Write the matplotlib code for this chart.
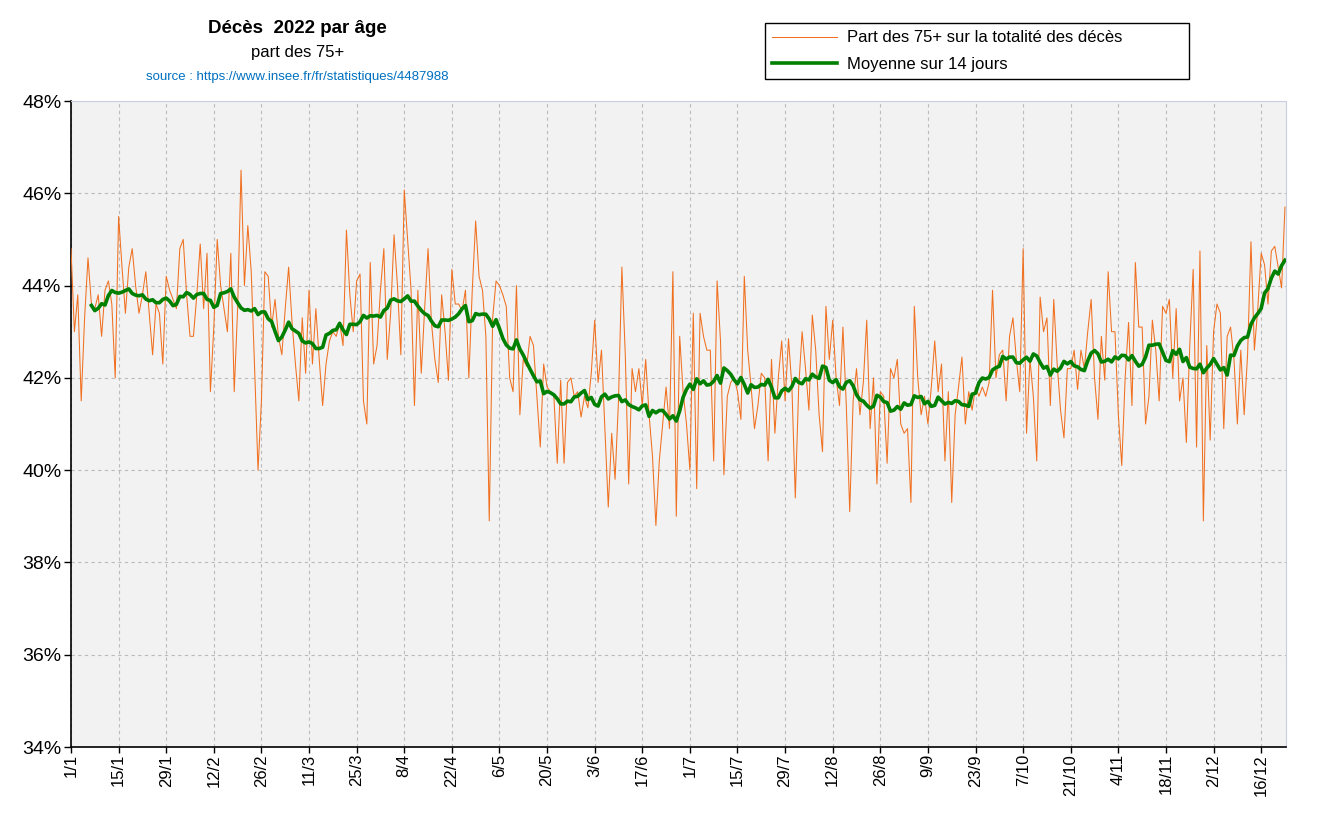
import numpy as np
import pandas as pd
import matplotlib
matplotlib.use("Agg")
import matplotlib.pyplot as plt

plt.rcParams['font.family'] = ['Liberation Sans', 'DejaVu Sans']

# part des 75+ dans les décès journaliers 2022 (%), du 1/1 au 24/12
part_75 = [
    44.8, 43.0, 43.8, 41.5, 43.3, 44.6, 43.6, 43.5, 43.8, 42.9,
    43.9, 44.1, 43.6, 42.0, 45.5, 44.4, 43.4, 44.4, 44.8, 44.0,
    43.4, 43.8, 44.3, 43.4, 42.5, 43.6, 43.4, 42.3, 44.2, 43.9,
    43.7, 43.5, 44.8, 45.0, 43.8, 42.9, 42.9, 43.8, 44.9, 43.5,
    44.7, 41.7, 43.1, 45.0, 44.0, 43.5, 43.0, 44.7, 41.7, 43.5,
    46.5, 44.0, 45.3, 44.3, 42.2, 40.0, 41.5, 44.3, 44.2, 43.1,
    43.7, 42.9, 42.5, 43.5, 44.4, 43.2, 42.3, 41.5, 43.3, 42.1,
    43.9, 42.3, 43.5, 42.4, 41.4, 42.3, 42.8, 43.0, 42.9, 43.2,
    42.7, 45.2, 43.8, 43.0, 44.1, 44.25, 41.5, 41.0, 44.5, 42.3,
    42.7, 43.9, 44.8, 42.4, 43.4, 45.1, 44.0, 42.5, 46.07, 45.0,
    43.9, 41.4, 43.9, 42.1, 43.5, 44.8, 43.2, 42.4, 41.9, 43.8,
    43.0, 41.95, 44.35, 43.6, 43.6, 43.45, 43.9, 42.0, 43.9, 45.4,
    44.2, 43.9, 42.9, 38.9, 43.3, 44.1, 44.0, 43.8, 43.55, 42.0,
    41.7, 44.0, 41.2, 42.4, 42.25, 42.9, 42.7, 41.6, 40.5, 42.3,
    41.8, 41.7, 41.6, 40.15, 41.95, 40.15, 41.9, 42.0, 41.6, 41.7,
    41.15, 41.6, 41.35, 42.1, 43.25, 41.9, 42.6, 40.9, 39.2, 40.8,
    39.8, 41.5, 44.4, 42.5, 39.7, 42.2, 41.7, 42.2, 41.4, 42.4,
    41.2, 40.3, 38.8, 40.2, 41.0, 41.8, 40.9, 44.3, 39.0, 42.9,
    41.7, 41.0, 40.0, 43.4, 39.6, 43.4, 42.9, 42.6, 42.6, 40.2,
    44.1, 42.8, 39.9, 41.6, 41.9, 42.0, 41.7, 41.1, 44.2, 42.6,
    41.8, 40.9, 41.4, 42.1, 42.0, 40.2, 42.4, 40.8, 42.0, 42.8,
    41.5, 42.85, 41.8, 39.4, 41.8, 43.0, 42.2, 41.3, 43.36, 42.6,
    41.2, 40.4, 43.55, 42.4, 43.25, 42.0, 41.4, 43.1, 41.4, 39.1,
    41.5, 42.2, 41.2, 41.9, 43.25, 40.9, 42.0, 39.7, 41.7, 41.6,
    40.15, 42.2, 42.0, 42.4, 41.0, 40.8, 40.9, 39.3, 43.55, 42.0,
    41.2, 41.6, 41.0, 41.8, 42.8, 41.7, 42.3, 40.2, 41.7, 39.3,
    41.2, 41.8, 42.45, 41.0, 41.7, 41.3, 41.8, 41.6, 41.8, 41.6,
    41.9, 43.9, 42.0, 42.5, 42.6, 41.5, 42.9, 43.3, 42.4, 41.7,
    44.8, 40.8, 42.4, 41.6, 40.2, 43.75, 43.0, 43.3, 41.4, 43.7,
    42.3, 41.3, 40.7, 42.2, 42.2, 42.6, 41.75, 42.6, 42.2, 43.0,
    43.7, 42.0, 41.1, 42.9, 41.95, 44.3, 43.0, 43.0, 41.2, 40.1,
    42.0, 43.2, 41.4, 44.5, 43.1, 43.1, 41.0, 41.6, 43.25, 42.6,
    41.5, 43.55, 43.4, 43.7, 42.0, 43.5, 41.5, 42.0, 40.6, 42.7,
    44.35, 40.5, 44.75, 38.9, 42.7, 40.65, 43.0, 43.6, 43.4, 40.9,
    42.9, 43.1, 42.4, 41.0, 42.6, 41.2, 42.5, 44.95, 42.6, 43.5,
    44.7, 44.45, 43.6, 44.75, 44.85, 44.4, 43.95, 45.7,
]

date_labels = ["1/1", "15/1", "29/1", "12/2", "26/2", "11/3", "25/3", "8/4",
               "22/4", "6/5", "20/5", "3/6", "17/6", "1/7", "15/7", "29/7",
               "12/8", "26/8", "9/9", "23/9", "7/10", "21/10", "4/11",
               "18/11", "2/12", "16/12"]
y_ticks = [34, 36, 38, 40, 42, 44, 46, 48]

days = np.arange(len(part_75))
s = pd.Series(part_75)
# moyenne mobile centrée sur 14 jours
moy14 = s.rolling(14, center=True, min_periods=8).mean()
moy14[:6] = np.nan

fig = plt.figure(figsize=(13.27, 8.27), dpi=100)
ax = fig.add_axes([71/1327, 1-747/827, (1286-71)/1327, (747-101)/827])
ax.set_facecolor('#F2F2F2')

ax.plot(days, part_75, color='#F07020', lw=0.75,
        label="Part des 75+ sur la totalité des décès", zorder=3)
ax.plot(days, moy14, color='#008000', lw=2.6,
        label="Moyenne sur 14 jours", zorder=4)

ax.set_xlim(0, 357.3)
ax.set_ylim(34, 48)
ax.set_xticks(range(0, 14*len(date_labels), 14))
ax.set_xticklabels(date_labels, rotation=90, fontsize=12)
ax.set_yticks(y_ticks)
ax.set_yticklabels([f"{v}%" for v in y_ticks], fontsize=14)
ax.tick_params(axis='y', direction='out', length=5, width=1, color='black', pad=2)
ax.tick_params(axis='x', direction='out', length=4, width=1, color='black', pad=1)

ax.grid(True, color='#BBBBBB', ls=(0, (3, 3)), lw=0.8)
ax.set_axisbelow(True)
for side in ['left', 'bottom']:
    ax.spines[side].set_color('black')
    ax.spines[side].set_linewidth(1.2)
for side in ['top', 'right']:
    ax.spines[side].set_color('#C8CDE0')

fig.text(0.224, 0.965, "Décès  2022 par âge", ha='center', va='center',
         fontsize=13.5, fontweight='bold')
fig.text(0.224, 0.937, "part des 75+", ha='center', va='center', fontsize=12)
fig.text(0.224, 0.907, "source : https://www.insee.fr/fr/statistiques/4487988",
         ha='center', va='center', fontsize=9.5, color='#0070C0')

leg = ax.legend(loc='upper left', bbox_to_anchor=(765/1327, 1-23/827-0.01, 424/1327, 0.01),
                bbox_transform=fig.transFigure, mode='expand', fontsize=12,
                frameon=True, fancybox=False, edgecolor='black', framealpha=1,
                borderpad=0.45, labelspacing=0.68, handlelength=3.9, handletextpad=0.55,
                borderaxespad=0)
leg.get_frame().set_linewidth(1.0)

fig.savefig("out.png", dpi=100)
